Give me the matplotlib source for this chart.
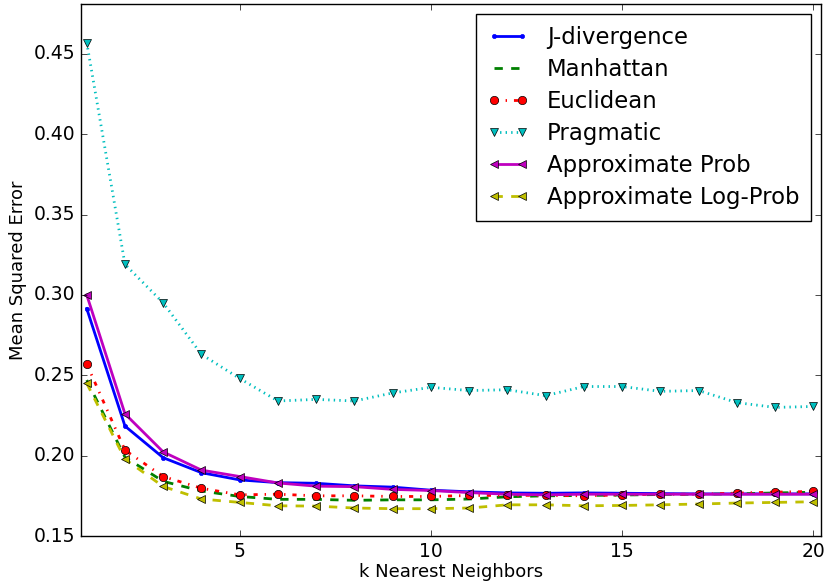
import numpy as np
from matplotlib import pyplot as plt

plt.style.use("classic")

k = np.arange(1, 21)

jdiv = [0.2915, 0.2184, 0.1987, 0.1894, 0.1849, 0.1832, 0.1828, 0.1812, 0.1804, 0.1785,
        0.1775, 0.1768, 0.1766, 0.1768, 0.1766, 0.1764, 0.1762, 0.1762, 0.1762, 0.1762]
manhattan = [0.247, 0.199, 0.184, 0.178, 0.1746, 0.1728, 0.1728, 0.1722, 0.1725, 0.1725,
             0.173, 0.1744, 0.175, 0.1752, 0.1755, 0.1758, 0.176, 0.1762, 0.1768, 0.1772]
euclid = [0.257, 0.2034, 0.187, 0.1797, 0.1756, 0.176, 0.175, 0.175, 0.1746, 0.1746,
          0.1752, 0.1753, 0.1753, 0.175, 0.1756, 0.176, 0.176, 0.1767, 0.1773, 0.1777]
pragmatic = [0.457, 0.319, 0.295, 0.263, 0.248, 0.234, 0.235, 0.234, 0.239, 0.2425,
             0.2405, 0.241, 0.2373, 0.243, 0.243, 0.240, 0.2405, 0.233, 0.230, 0.2306]
approx_prob = [0.300, 0.226, 0.2023, 0.191, 0.187, 0.183, 0.181, 0.1807, 0.179, 0.1783,
               0.177, 0.176, 0.1756, 0.176, 0.176, 0.176, 0.176, 0.176, 0.176, 0.176]
approx_logprob = [0.245, 0.1978, 0.1808, 0.173, 0.1709, 0.1688, 0.1686, 0.1674, 0.167, 0.167,
                  0.1674, 0.1694, 0.1694, 0.1688, 0.169, 0.1694, 0.1699, 0.1705, 0.1709, 0.1713]

fig = plt.figure(figsize=(8.27, 5.85), dpi=100)
fig.subplots_adjust(left=81 / 827, right=821 / 827, top=1 - 4 / 585, bottom=1 - 536 / 585)
ax = fig.add_subplot(111)

ax.plot(k, jdiv, "b.-", lw=2, label="J-divergence")
ax.plot(k, manhattan, "g--", lw=2, label="Manhattan")
ax.plot(k, euclid, "ro-.", lw=2, label="Euclidean")
ax.plot(k, pragmatic, "cv:", lw=2, label="Pragmatic")
ax.plot(k, approx_prob, "m<-", lw=2, label="Approximate Prob")
ax.plot(k, approx_logprob, "y<--", lw=2, label="Approximate Log-Prob")

ax.set_xlim(0.85, 20.2)
ax.set_ylim(0.15, 0.481)
ax.set_xticks([5, 10, 15, 20])
ax.set_yticks([0.15, 0.20, 0.25, 0.30, 0.35, 0.40, 0.45])
ax.tick_params(labelsize=13.5)
ax.set_xlabel("k Nearest Neighbors", fontsize=13, labelpad=1.5)
ax.set_ylabel("Mean Squared Error", fontsize=13)

ax.legend(loc="upper right", fontsize=16.4, numpoints=2, handlelength=1.8,
          borderaxespad=0.45, labelspacing=0.4, borderpad=0.5)

fig.savefig("out.png", dpi=100)
